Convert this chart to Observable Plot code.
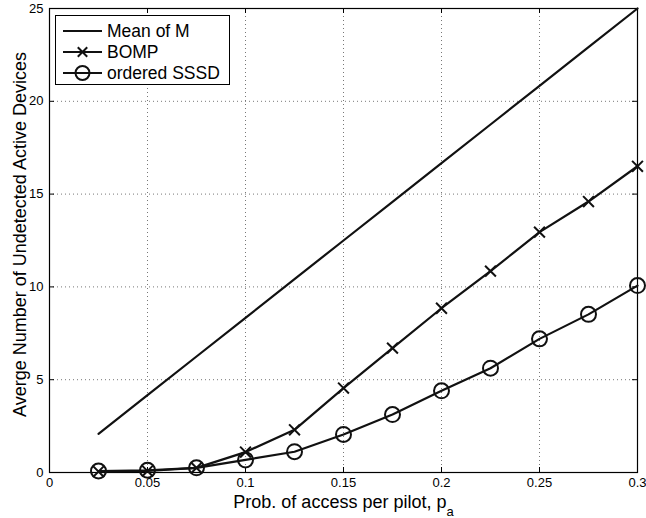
<!DOCTYPE html>
<html>
<head>
<meta charset="utf-8">
<script src="https://cdn.jsdelivr.net/npm/d3@7"></script>
<script src="https://cdn.jsdelivr.net/npm/@observablehq/plot@0.6"></script>
<style>
  html, body { margin: 0; padding: 0; background: #fff; }
  #wrap { position: relative; width: 646px; height: 518px; font-family: "Liberation Sans", Arial, Helvetica, sans-serif; }
  #legend { position: absolute; left: 55px; top: 15px; width: 175px; height: 70px; border: 1px solid #000; background: #fff; box-sizing: border-box; }
  .row { position: absolute; left: 0; height: 20px; display: flex; align-items: center; white-space: nowrap; }
  .row span { font-size: 17.5px; color: #000; margin-left: 1px; }
</style>
</head>
<body>
<div id="wrap"><div id="chart"></div><div id="legend"></div></div>
<script>
const pa = [0.025, 0.05, 0.075, 0.1, 0.125, 0.15, 0.175, 0.2, 0.225, 0.25, 0.275, 0.3];
const meanM = [2.08, 4.17, 6.25, 8.33, 10.42, 12.5, 14.58, 16.67, 18.75, 20.83, 22.92, 25.0];
const bomp = [0.05, 0.08, 0.25, 1.1, 2.3, 4.55, 6.7, 8.85, 10.85, 12.95, 14.6, 16.5];
const sssd = [0.08, 0.12, 0.25, 0.68, 1.12, 2.05, 3.12, 4.4, 5.62, 7.2, 8.52, 10.07];
const xTicks = [0, 0.05, 0.1, 0.15, 0.2, 0.25, 0.3];
const xTickLabels = ["0", "0.05", "0.1", "0.15", "0.2", "0.25", "0.3"];
const yTicks = [0, 5, 10, 15, 20, 25];
const seriesNames = ["Mean of M", "BOMP", "ordered SSSD"];

const rowsMean = pa.map((x, i) => ({x, y: meanM[i]}));
const rowsB = pa.map((x, i) => ({x, y: bomp[i]}));
const rowsS = pa.map((x, i) => ({x, y: sssd[i]}));

const W = 646, H = 518, mL = 49, mR = 9, mT = 8, mB = 46;
const plotW = W - mL - mR, plotH = H - mT - mB, tick = 5;
const grid = {stroke: "#777", strokeOpacity: 1, strokeDasharray: "1,3", strokeWidth: 1};
const chart = Plot.plot({
  width: W, height: H,
  marginLeft: mL, marginRight: mR, marginTop: mT, marginBottom: mB,
  style: {fontFamily: "Liberation Sans, Arial, Helvetica, sans-serif", fontSize: "13px", background: "#fff", color: "#000"},
  x: {domain: [0, 0.3]},
  y: {domain: [0, 25]},
  marks: [
    Plot.gridX(xTicks.slice(1, -1), grid),
    Plot.gridY(yTicks.slice(1, -1), grid),
    Plot.axisX(xTicks, {anchor: "bottom", tickSize: -5, tickPadding: 10, tickFormat: (d) => xTickLabels[xTicks.indexOf(d)], label: "Prob. of access per pilot, p", labelAnchor: "center", labelArrow: "none", labelOffset: 35, fontSize: 13}),
    Plot.tickX(xTicks, {x: d => d, insetBottom: plotH - tick, stroke: "#000"}),
    Plot.axisY(yTicks, {anchor: "left", tickSize: -5, tickPadding: 11, label: "Averge Number of Undetected Active Devices", labelAnchor: "center", labelArrow: "none", labelOffset: 36, fontSize: 13}),
    Plot.tickY(yTicks, {y: d => d, insetLeft: plotW - tick, stroke: "#000"}),
    Plot.frame({stroke: "#000", strokeWidth: 1.2}),
    Plot.line(rowsMean, {x: "x", y: "y", stroke: "#111", strokeWidth: 2.2}),
    Plot.line(rowsB, {x: "x", y: "y", stroke: "#111", strokeWidth: 2.2}),
    Plot.dot(rowsB, {x: "x", y: "y", symbol: "times", r: 5, stroke: "#111", strokeWidth: 2}),
    Plot.line(rowsS, {x: "x", y: "y", stroke: "#111", strokeWidth: 2.2}),
    Plot.dot(rowsS, {x: "x", y: "y", symbol: "circle", r: 7.5, stroke: "#111", strokeWidth: 2, fill: "none"})
  ]
});
document.getElementById("chart").appendChild(chart);

// axis label font sizes and subscript
d3.select(chart).selectAll('g[aria-label="x-axis label"] text, g[aria-label="y-axis label"] text')
  .style("font-size", "18px");
const xl = d3.select(chart).select('g[aria-label="x-axis label"] text');
xl.append("tspan").attr("baseline-shift", "sub").style("font-size", "13px").text("a");
// nudge the y label slightly upward, as in the reference
const yl = d3.select(chart).select('g[aria-label="y-axis label"]');
yl.attr("transform", (yl.attr("transform") || "") + " translate(0,-6)");

// legend
const legend = d3.select("#legend");
const symbols = ["none", "times", "circle"];
const tops = [5, 26, 47];
seriesNames.forEach((name, i) => {
  const row = legend.append("div").attr("class", "row").style("top", (tops[i]) + "px");
  const svg = row.append("svg").attr("width", 50).attr("height", 20);
  svg.append("line").attr("x1", 7).attr("x2", 46).attr("y1", 10).attr("y2", 10).attr("stroke", "#111").attr("stroke-width", 2.2);
  if (symbols[i] === "times") {
    svg.append("path").attr("d", d3.symbol(d3.symbolTimes, 60)()).attr("transform", "translate(26.5,10)").attr("stroke", "#111").attr("stroke-width", 2).attr("fill", "none");
  } else if (symbols[i] === "circle") {
    svg.append("circle").attr("cx", 26.5).attr("cy", 10).attr("r", 7).attr("stroke", "#111").attr("stroke-width", 2).attr("fill", "none");
  }
  row.append("span").text(name);
});
</script>
</body>
</html>
